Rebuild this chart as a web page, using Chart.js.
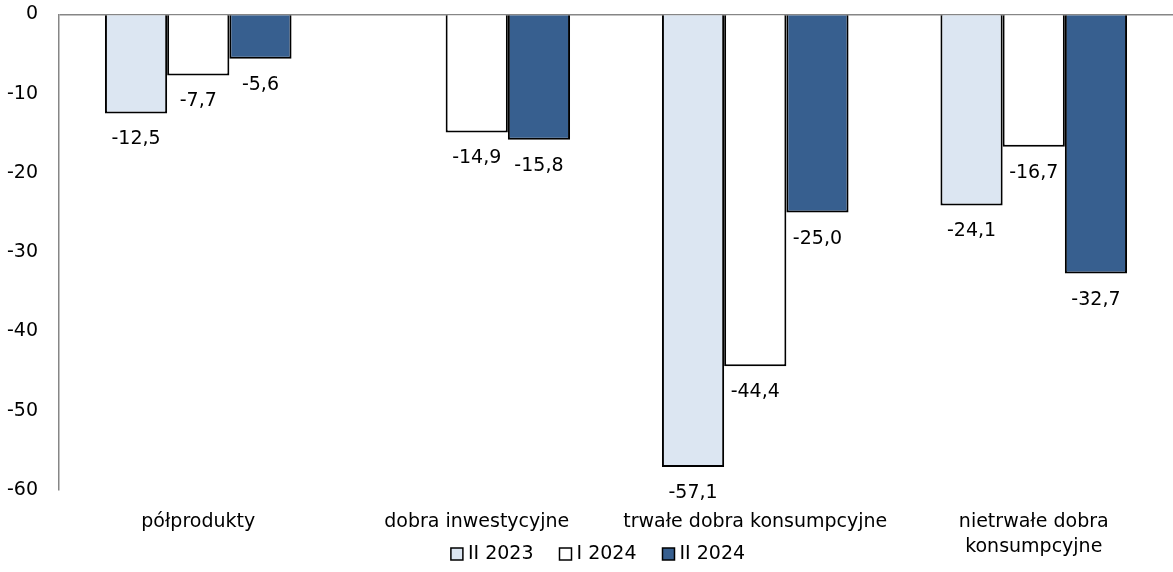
<!DOCTYPE html>
<html>
<head>
<meta charset="utf-8">
<script src="https://cdn.jsdelivr.net/npm/chart.js@4/dist/chart.umd.min.js"></script>
<style>
  body { margin: 0; background: #fff; }
  #wrap { width: 1173px; height: 572px; }
</style>
</head>
<body>
<div id="wrap"><canvas id="barChart" width="1173" height="572"></canvas></div>
<script>
// dane
var kategorie = ["półprodukty", "dobra inwestycyjne", "trwałe dobra konsumpcyjne", ["nietrwałe dobra", "konsumpcyjne"]];
var serie = ["II 2023", "I 2024", "II 2024"];
var ii2023 = [-12.5, 0.2, -57.1, -24.1];
var i2024 = [-7.7, -14.9, -44.4, -16.7];
var ii2024 = [-5.6, -15.8, -25.0, -32.7];
var osYmin = -60, osYmax = 0, osYkrok = 10;

var czcionka = "'DejaVu Sans', sans-serif";

/* etykiety wartosci pod/nad slupkami */
var etykiety = {
    id: 'etykiety',
    afterDatasetsDraw: function(chart) {
        var ctx = chart.ctx;
        var top = chart.chartArea.top;
        ctx.save();
        ctx.font = "19px " + czcionka;
        ctx.fillStyle = "#000";
        ctx.textAlign = "center";
        ctx.textBaseline = "middle";
        chart.data.datasets.forEach(function(ds, i) {
            chart.getDatasetMeta(i).data.forEach(function(bar, j) {
                var v = ds.data[j];
                var txt = v.toFixed(1).replace(".", ",");
                var y;
                if (v < 0) {
                    y = bar.y + 26;
                } else {
                    // nad osia - wychodzi poza gore wykresu (jak w oryginale)
                    y = Math.max(bar.y, top) - 21;
                }
                ctx.fillText(txt, bar.x, y);
            });
        });
        ctx.restore();
    }
};

/* legenda na dole (rysowana recznie, bo os X zajmuje dol) */
var legenda = {
    id: 'legenda',
    afterDraw: function(chart) {
        var ctx = chart.ctx;
        ctx.save();
        ctx.font = "19px " + czcionka;
        ctx.textBaseline = "middle";
        ctx.textAlign = "left";
        var box = 12, gap = 5, odstep = 26, yc = 554;
        var sz = 0;
        chart.data.datasets.forEach(function(ds, i) {
            sz += box + gap + ctx.measureText(ds.label).width;
            if (i > 0) sz += odstep;
        });
        var x = 598 - sz / 2;
        chart.data.datasets.forEach(function(ds) {
            ctx.fillStyle = ds.backgroundColor;
            ctx.fillRect(x, yc - box / 2, box, box);
            ctx.strokeStyle = '#000';
            ctx.lineWidth = 1.5;
            ctx.strokeRect(x, yc - box / 2, box, box);
            x += box + gap;
            ctx.fillStyle = '#000';
            ctx.fillText(ds.label, x, yc);
            x += ctx.measureText(ds.label).width + odstep;
        });
        ctx.restore();
    }
};

var ctx = document.getElementById('barChart');
var myBarChart = new Chart(ctx, {
    type: 'bar',
    data: {
        labels: kategorie,
        datasets: [{
            label: serie[0],
            data: ii2023,
            backgroundColor: '#dce6f2',
            borderColor: '#000',
            borderWidth: 2
        }, {
            label: serie[1],
            data: i2024,
            backgroundColor: '#ffffff',
            borderColor: '#000',
            borderWidth: 2
        }, {
            label: serie[2],
            data: ii2024,
            backgroundColor: '#375f8f',
            borderColor: '#000',
            borderWidth: 2
        }]
    },
    options: {
        responsive: false,
        animation: false,
        layout: { padding: 0 },
        categoryPercentage: 0.67,
        barPercentage: 1,
        plugins: {
            legend: { display: false },
            tooltip: { enabled: false }
        },
        scales: {
            x: {
                grid: { display: false },
                border: { display: false },
                ticks: {
                    color: '#000',
                    font: { size: 19, family: czcionka, lineHeight: 1.3 },
                    padding: 12,
                    maxRotation: 0,
                    autoSkip: false
                },
                afterFit: function(scale) { scale.height = 82; }
            },
            y: {
                min: osYmin,
                max: osYmax,
                ticks: {
                    stepSize: osYkrok,
                    color: '#000',
                    font: { size: 19, family: czcionka },
                    padding: 3
                },
                grid: {
                    color: function(c) { return c.tick && c.tick.value === 0 ? '#868686' : 'rgba(0,0,0,0)'; },
                    tickColor: 'rgba(0,0,0,0)',
                    tickLength: 18,
                    lineWidth: 1.5
                },
                border: { display: true, color: '#868686', width: 1.5 },
                afterFit: function(scale) { scale.width = 59; }
            }
        }
    },
    plugins: [etykiety, legenda]
});
</script>
</body>
</html>
